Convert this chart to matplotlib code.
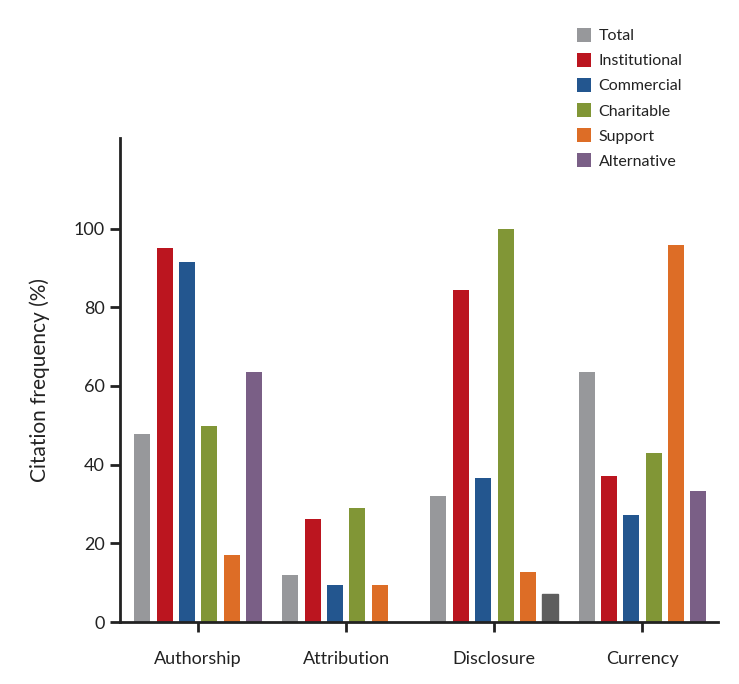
import numpy as np
import matplotlib.pyplot as plt

plt.rcParams['font.family'] = ['Lato', 'DejaVu Sans']

categories = ["Authorship", "Attribution", "Disclosure", "Currency"]
series = ["Total", "Institutional", "Commercial", "Charitable", "Support", "Alternative"]
total = [47.7, 11.9, 32.0, 63.5]
institutional = [95.1, 26.1, 84.5, 37.1]
commercial = [91.4, 9.4, 36.5, 27.2]
charitable = [49.9, 28.9, 100.0, 42.9]
support = [17.0, 9.4, 12.7, 95.7]
alternative = [63.5, 0.0, 7.1, 33.2]

colors = ["#97989b", "#bb151f", "#23568f", "#819636", "#dd6d26", "#7a5f86"]
values = [total, institutional, commercial, charitable, support, alternative]

fig = plt.figure(figsize=(7.39, 6.84), dpi=100)
ax = fig.add_axes([0.1624, 0.0906, 0.8092, 0.7076])

x = np.arange(len(categories))
step = 0.151
width = 0.108
for i, (name, vals, c) in enumerate(zip(series, values, colors)):
    bars = ax.bar(x + (i - 2.5) * step, vals, width, color=c, label=name)
    if name == "Alternative":
        # disclosure bar is drawn in dark grey in the original
        bars[2].set_color("#5e5e5e")

ax.set_xlim(-0.527, 3.51)
ax.set_ylim(0, 123)
ax.set_xticks(x)
ax.set_xticklabels(categories, fontsize=13, color="#222222")
ax.set_yticks([0, 20, 40, 60, 80, 100])
ax.tick_params(axis='y', labelsize=13, labelcolor="#222222", length=7, width=2,
               color="#222222", pad=4)
ax.tick_params(axis='x', length=7, width=2, color="#222222", pad=14)
ax.set_ylabel("Citation frequency (%)", fontsize=15, labelpad=17, color="#222222")
for s in ["top", "right"]:
    ax.spines[s].set_visible(False)
for s in ["left", "bottom"]:
    ax.spines[s].set_linewidth(2)
    ax.spines[s].set_color("#222222")

leg = fig.legend(loc="upper left", bbox_to_anchor=(0.772, 0.968), frameon=False,
                 fontsize=11.5, handlelength=0.9, handleheight=0.9, handletextpad=0.45,
                 labelspacing=0.62, borderaxespad=0)
for t in leg.get_texts():
    t.set_color("#222222")

fig.savefig("out.png", dpi=100)
